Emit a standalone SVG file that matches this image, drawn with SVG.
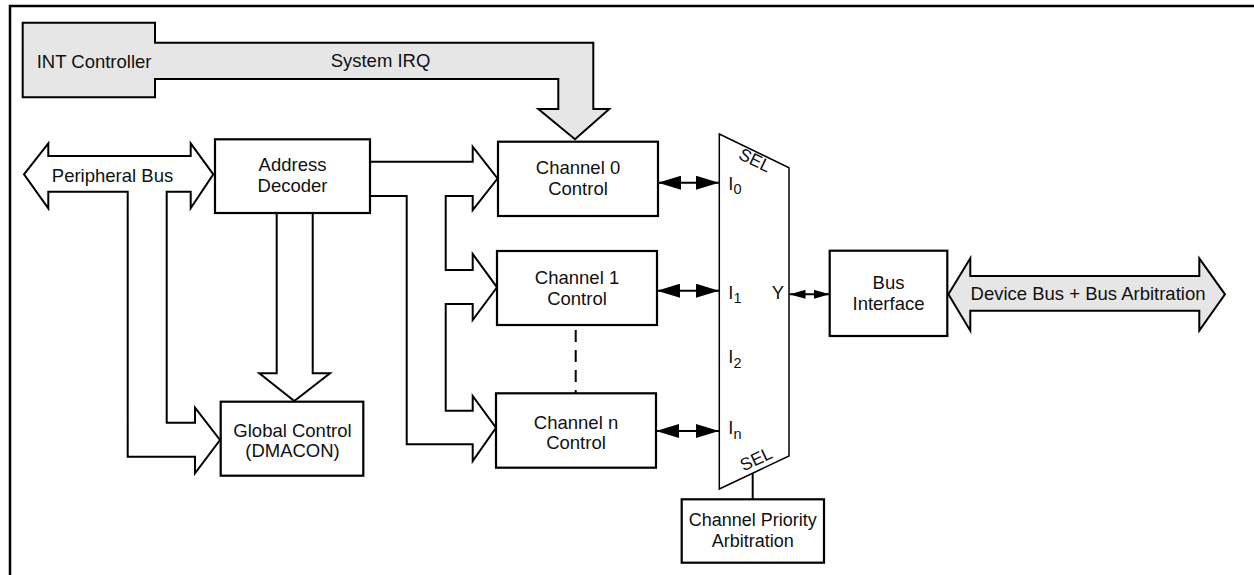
<svg xmlns="http://www.w3.org/2000/svg" width="1254" height="575" viewBox="0 0 1254 575">
<style>
  text { font-family: "Liberation Sans", Arial, sans-serif; font-size: 18.5px; fill: #111; }
  .mid { text-anchor: middle; }
  .box { fill: #fff; stroke: #000; stroke-width: 2.2; }
  .pipe { fill: #fff; stroke: #000; stroke-width: 2; stroke-linejoin: miter; }
  .gray { fill: #e6e6e6; stroke: #000; stroke-width: 2; stroke-linejoin: miter; }
  .mux { fill: #fff; stroke: #000; stroke-width: 1.5; }
  .wire { fill: none; stroke: #000; stroke-width: 2; }
  .sub { font-size: 14.5px; }
  .sel { font-size: 17.5px; }
  .small { font-size: 18px; }
</style>
<defs>
  <marker id="bigHead" viewBox="0 0 23 14" refX="23" refY="7" markerWidth="23" markerHeight="14" markerUnits="userSpaceOnUse" orient="auto-start-reverse">
    <path d="M0,0 L23,7 L0,14 Z" fill="#000"/>
  </marker>
  <marker id="smallHead" viewBox="0 0 16 9" refX="16" refY="4.5" markerWidth="16" markerHeight="9" markerUnits="userSpaceOnUse" orient="auto-start-reverse">
    <path d="M0,0 L16,4.5 L0,9 Z" fill="#000"/>
  </marker>
</defs>

<rect x="10" y="6" width="1300" height="620" fill="none" stroke="#000" stroke-width="2.5"/>

<g id="connectors">
  <!-- Peripheral bus with branch to Global Control -->
  <path class="pipe" d="M24,174.3 L48.3,143.3 V156 H190.7 V143.3 L213.3,174.3 L190.7,208.3 V191.7 H166.7 V422.7 H195 V407.7 L220,440 L195,473.3 V456.7 H127.7 V191.7 H48.3 V208.3 Z"/>
  <!-- Address Decoder to Global Control -->
  <path class="pipe" d="M276.7,213.3 V373.3 H259.3 L294.3,401 L330,373.3 H312.7 V213.3"/>
  <!-- Address Decoder to channels -->
  <path class="pipe" d="M370,161.7 H472.7 V146.7 L497.5,178.5 L472.7,210 V196 H445.7 V270 H472.7 V254 L497,287.3 L472.7,320 V304 H445.7 V410.7 H472.7 V396 L496,427.7 L472.7,461 V444.3 H406.7 V196 H370"/>
  <!-- Channel to mux -->
  <line class="wire" x1="658" y1="182.7" x2="719" y2="182.7" marker-start="url(#bigHead)" marker-end="url(#bigHead)"/>
  <line class="wire" x1="657" y1="290.7" x2="719" y2="290.7" marker-start="url(#bigHead)" marker-end="url(#bigHead)"/>
  <line class="wire" x1="656" y1="431" x2="719" y2="431" marker-start="url(#bigHead)" marker-end="url(#bigHead)"/>
  <!-- Mux Y to Bus Interface -->
  <line class="wire" x1="789.5" y1="294.3" x2="829.7" y2="294.3" marker-start="url(#smallHead)" marker-end="url(#smallHead)"/>
  <!-- Device bus -->
  <path class="gray" d="M948.4,294.3 L970.3,258.3 V276 H1199.3 V258.3 L1225,294.3 L1199.3,330.7 V310.7 H970.3 V330.7 Z"/>
  <text x="1088" y="300" class="mid">Device Bus + Bus Arbitration</text>
  <!-- dashed continuation -->
  <line class="wire" x1="575.7" y1="326" x2="575.7" y2="393" stroke-dasharray="12 8" stroke-dashoffset="-4"/>
  <!-- SEL line -->
  <line class="wire" x1="752.7" y1="473.5" x2="752.7" y2="499.3"/>
</g>

<g id="int-controller">
  <path class="gray" d="M22.7,22.7 H155 V42.7 H593.3 V109 H609.3 L575,139.3 L538.3,109 H558.3 V79 H155 V97.3 H22.7 Z"/>
  <text x="36.7" y="67.7">INT Controller</text>
  <text x="380.5" y="66.7" class="mid">System IRQ</text>
</g>

<g id="peripheral-bus">
  <text x="112.5" y="181.7" class="mid">Peripheral Bus</text>
</g>

<g id="address-decoder">
  <rect class="box" x="215" y="139.3" width="155" height="73.7"/>
  <text x="292.5" y="171.2" class="mid">Address</text>
  <text x="292.5" y="192" class="mid">Decoder</text>
</g>

<g id="global-control">
  <rect class="box" x="220.7" y="401.7" width="142.6" height="74"/>
  <text x="292.5" y="436.7" class="mid">Global Control</text>
  <text x="292.5" y="456.7" class="mid">(DMACON)</text>
</g>

<g id="channel-0">
  <rect class="box" x="498" y="141.7" width="160" height="74.3"/>
  <text x="578" y="174.3" class="mid">Channel 0</text>
  <text x="578" y="195" class="mid">Control</text>
</g>

<g id="channel-1">
  <rect class="box" x="497" y="251" width="160" height="74"/>
  <text x="577" y="284" class="mid">Channel 1</text>
  <text x="577" y="305" class="mid">Control</text>
</g>

<g id="channel-n">
  <rect class="box" x="496" y="393.3" width="160" height="74.4"/>
  <text x="576" y="428.5" class="mid">Channel n</text>
  <text x="576" y="449" class="mid">Control</text>
</g>

<g id="mux">
  <polygon class="mux" points="719.3,134 789,167.7 789,456 719.3,489"/>
  <text class="sel mid" transform="translate(755,160) rotate(26)" y="6">SEL</text>
  <text class="sel mid" transform="translate(756,459) rotate(-25)" y="6">SEL</text>
  <text x="728.3" y="189.5">I<tspan class="sub" dy="4.5">0</tspan></text>
  <text x="728.3" y="298.5">I<tspan class="sub" dy="4.5">1</tspan></text>
  <text x="728.3" y="363.3">I<tspan class="sub" dy="4.5">2</tspan></text>
  <text x="728.3" y="434">I<tspan class="sub" dy="4.5">n</tspan></text>
  <text x="778" y="299" class="mid">Y</text>
</g>

<g id="bus-interface">
  <rect class="box" x="829.7" y="250.7" width="117.6" height="85.3"/>
  <text x="888.5" y="289" class="mid">Bus</text>
  <text x="888.5" y="310" class="mid">Interface</text>
</g>

<g id="channel-priority-arbitration">
  <rect class="box" x="681.7" y="499.3" width="142.3" height="63.4"/>
  <text x="752.8" y="526" class="mid small">Channel Priority</text>
  <text x="752.8" y="547" class="mid small">Arbitration</text>
</g>
</svg>
